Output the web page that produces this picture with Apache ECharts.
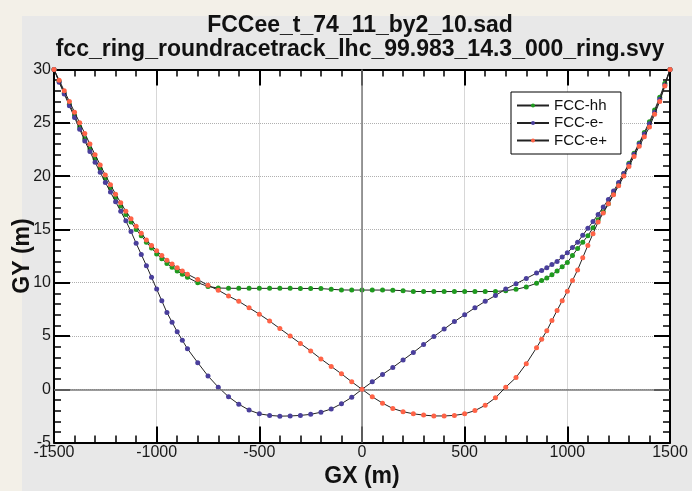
<!DOCTYPE html>
<html>
<head>
<meta charset="utf-8">
<script src="https://cdn.jsdelivr.net/npm/echarts@6/dist/echarts.min.js"></script>
<style>
html,body{margin:0;padding:0;background:#f3f0e8;overflow:hidden;}
#panel{position:absolute;left:22px;top:16px;width:670px;height:475px;background:#e8e8e8;}
#c{position:absolute;left:0;top:0;width:692px;height:491px;}
</style>
</head>
<body>
<div id="panel"></div>
<div id="c"></div>
<script>
// ---- data ----
const titleLine1 = 'FCCee_t_74_11_by2_10.sad';
const titleLine2 = 'fcc_ring_roundracetrack_lhc_99.983_14.3_000_ring.svy';
const xAxisName = 'GX (m)';
const yAxisName = 'GY (m)';
const seriesNames = ['FCC-hh', 'FCC-e-', 'FCC-e+'];

const gx = [
  -1500,-1475,-1450,-1425,-1400,-1375,-1350,-1325,-1300,-1275,-1250,-1225,-1200,-1175,-1150,-1125,-1100,-1075,-1050,-1025,-1000,-975,-950,-925,-900,-875,-850,
  -800,-750,-700,-650,-600,-550,-500,-450,-400,-350,-300,-250,-200,-150,-100,-50,0,50,100,150,200,250,300,350,400,450,500,550,600,650,700,750,800,
  850,875,900,925,950,975,1000,1025,1050,1075,1100,1125,1150,1175,1200,1225,1250,1275,1300,1325,1350,1375,1400,1425,1450,1475,1500
];

const gyHh = [
  30,28.9,27.8,26.75,25.7,24.6,23.5,22.55,21.6,20.7,19.8,18.9,18.0,17.2,16.4,15.7,15.0,14.4,13.8,13.25,12.7,12.25,11.8,11.45,11.1,10.8,10.5,
  10.0,9.65,9.5,9.48,9.47,9.47,9.47,9.47,9.47,9.47,9.46,9.46,9.45,9.38,9.32,9.31,9.31,9.31,9.31,9.3,9.25,9.18,9.17,9.17,9.17,9.17,9.17,9.17,9.17,9.18,9.25,9.38,9.6,
  9.95,10.2,10.45,10.75,11.1,11.5,11.9,12.55,13.2,13.8,14.4,15.15,15.9,16.65,17.4,18.35,19.3,20.25,21.2,22.15,23.1,24.1,25.1,26.2,27.4,28.7,30
];

const gyEMinus = [
  30,28.8,27.7,26.6,25.5,24.4,23.3,22.3,21.3,20.35,19.4,18.5,17.6,16.7,15.8,14.8,13.7,12.65,11.6,10.5,9.4,8.3,7.2,6.3,5.4,4.6,3.8,
  2.5,1.25,0.2,-0.7,-1.4,-1.95,-2.3,-2.45,-2.52,-2.5,-2.45,-2.35,-2.15,-1.85,-1.35,-0.75,0,0.7,1.4,2.05,2.75,3.45,4.2,4.95,5.65,6.35,7.0,7.65,8.25,8.8,9.4,9.9,10.4,
  10.9,11.15,11.4,11.7,12.0,12.4,12.8,13.3,13.8,14.45,15.1,15.75,16.4,17.1,17.8,18.6,19.4,20.25,21.1,22.05,23.0,23.95,24.9,26.0,27.2,28.55,30
];

const gyEPlus = [
  30,29.0,28.0,27.0,26.0,25.0,24.0,23.0,22.0,21.05,20.1,19.2,18.3,17.5,16.7,16.0,15.3,14.65,14.0,13.5,13.0,12.55,12.1,11.75,11.4,11.1,10.8,
  10.3,9.75,9.3,8.75,8.25,7.65,7.05,6.4,5.7,5.0,4.3,3.6,2.85,2.15,1.45,0.7,0,-0.7,-1.3,-1.8,-2.1,-2.3,-2.42,-2.5,-2.5,-2.45,-2.3,-2.0,-1.5,-0.8,0.2,1.1,2.4,
  3.9,4.7,5.5,6.45,7.4,8.3,9.2,10.2,11.2,12.35,13.5,14.6,15.7,16.55,17.4,18.25,19.1,20.0,20.9,21.85,22.8,23.7,24.6,25.8,27.0,28.45,30
];

const xMin = -1500, xMax = 1500, xStep = 500;
const yMin = -5, yMax = 30, yStep = 5;
const seriesColors = ['#1f9a1f', '#4a3f9c', '#ff6347'];

// ---- chart ----
const FONT = '"Liberation Sans", Arial, sans-serif';
const chart = echarts.init(document.getElementById('c'), null, {renderer: 'canvas'});

function pairs(ys) { return gx.map((x, i) => [x, ys[i]]); }
const plain = v => String(v);

function axisCommon(min, max, step) {
  return {
    type: 'value', min: min, max: max, interval: step,
    axisLine: {show: true, onZero: false, lineStyle: {color: '#000', width: 2}},
    axisTick: {show: true, inside: true, length: 16, lineStyle: {color: '#000', width: 2}},
    minorTick: {show: true, splitNumber: 5, length: 7, lineStyle: {color: '#000', width: 1.5}},
    splitLine: {show: false},
    minorSplitLine: {show: false}
  };
}

const xBottom = Object.assign(axisCommon(xMin, xMax, xStep), {
  position: 'bottom',
  axisLabel: {show: true, fontSize: 16, color: '#1a1a1a', margin: 2, fontFamily: FONT, formatter: plain},
  splitLine: {show: true, lineStyle: {type: 'dotted', color: '#b0b0b0', width: 1}},
  name: xAxisName, nameLocation: 'middle', nameGap: 23, nameMoveOverlap: false,
  nameTextStyle: {fontSize: 23, fontWeight: 'bold', color: '#111', fontFamily: FONT}
});
const xTop = Object.assign(axisCommon(xMin, xMax, xStep), {position: 'top', axisLabel: {show: false}});
const yLeft = Object.assign(axisCommon(yMin, yMax, yStep), {
  position: 'left',
  axisLabel: {show: true, fontSize: 16, color: '#1a1a1a', margin: 3, fontFamily: FONT, formatter: plain},
  splitLine: {show: true, lineStyle: {type: 'dotted', color: '#b0b0b0', width: 1}},
  name: yAxisName, nameLocation: 'middle', nameGap: 20, nameRotate: 90, nameMoveOverlap: false,
  nameTextStyle: {fontSize: 23, fontWeight: 'bold', color: '#111', fontFamily: FONT}
});
const yRight = Object.assign(axisCommon(yMin, yMax, yStep), {position: 'right', axisLabel: {show: false}});

const dataSets = [gyHh, gyEMinus, gyEPlus];
const series = dataSets.map((ys, i) => {
  const s = {
    name: seriesNames[i], type: 'line', xAxisIndex: 0, yAxisIndex: 0,
    data: pairs(ys), symbol: 'circle', symbolSize: 5, showSymbol: true, showAllSymbol: true,
    lineStyle: {color: '#222', width: 1}, itemStyle: {color: seriesColors[i]},
    emphasis: {disabled: true}, animation: false, z: 3 + i
  };
  if (i === 0) {
    s.markLine = {
      silent: true, symbol: ['none', 'none'], label: {show: false}, animation: false,
      lineStyle: {color: '#7a7a7a', width: 1.5, type: 'solid'},
      data: [{xAxis: 0}, {yAxis: 0}]
    };
  }
  return s;
});

chart.setOption({
  backgroundColor: 'transparent',
  animation: false,
  textStyle: {fontFamily: FONT},
  grid: {left: 54, right: 22, top: 69.5, bottom: 48.4, show: true, backgroundColor: '#fff', borderWidth: 0,
         containLabel: false, outerBoundsMode: 'none'},
  xAxis: [xBottom, xTop],
  yAxis: [yLeft, yRight],
  legend: {
    orient: 'vertical', left: 511, top: 92, padding: [6, 14, 6, 5], itemGap: 2.5,
    itemWidth: 32, itemHeight: 5, backgroundColor: '#fff', borderColor: '#000', borderWidth: 1,
    textStyle: {fontSize: 15, fontFamily: FONT, color: '#111'},
    data: seriesNames
  },
  graphic: [
    {type: 'text', x: 360, y: 26, z: 100, style: {text: titleLine1, font: 'bold 23px "Liberation Sans", Arial', fill: '#111', align: 'center', verticalAlign: 'middle'}},
    {type: 'text', x: 360, y: 50, z: 100, style: {text: titleLine2, font: 'bold 23px "Liberation Sans", Arial', fill: '#111', align: 'center', verticalAlign: 'middle'}}
  ],
  series: series
});
</script>
</body>
</html>
